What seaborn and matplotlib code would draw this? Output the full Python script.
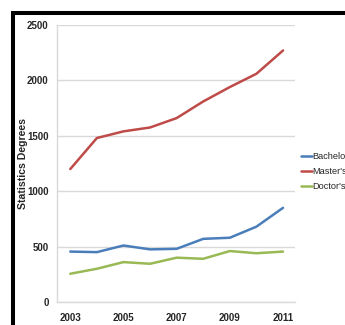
import numpy as np
import pandas as pd
import matplotlib
matplotlib.use("Agg")
import matplotlib.pyplot as plt
from matplotlib import font_manager
import seaborn as sns

years = [2003, 2004, 2005, 2006, 2007, 2008, 2009, 2010, 2011]
bachelors = [455, 450, 510, 475, 480, 570, 580, 680, 850]
masters = [1200, 1480, 1540, 1575, 1660, 1810, 1940, 2060, 2270]
doctors = [255, 300, 360, 345, 400, 390, 460, 440, 455]
series_names = ["Bachelor's", "Master's", "Doctor's"]
colors = ["#4a7ebb", "#be4b48", "#98b954"]
x_ticks = [2003, 2005, 2007, 2009, 2011]
y_ticks = [0, 500, 1000, 1500, 2000, 2500]

df = pd.DataFrame({"Year": years, "Bachelor's": bachelors,
                   "Master's": masters, "Doctor's": doctors})
long = df.melt(id_vars="Year", var_name="Degree", value_name="Count")

sns.set_style("white")
installed = {f.name for f in font_manager.fontManager.ttflist}
if "Liberation Sans Narrow" in installed:
    plt.rcParams["font.family"] = ["Liberation Sans Narrow", "DejaVu Sans"]
    fs, fs_leg, fs_lab = 9, 8.5, 9.6
else:
    plt.rcParams["font.family"] = ["Liberation Sans", "DejaVu Sans"]
    fs, fs_leg, fs_lab = 7, 6.6, 7.6

fig = plt.figure(figsize=(3.45, 3.25), dpi=100, facecolor="white")
ax = fig.add_axes([57 / 345, 1 - 302 / 325, 238 / 345, 277 / 325])

sns.lineplot(data=long, x="Year", y="Count", hue="Degree", hue_order=series_names,
             palette=colors, linewidth=1.8, ax=ax, legend=True)

ax.set_xlim(2002.5, 2011.45)
ax.set_ylim(0, 2500)
ax.set_xticks(x_ticks)
ax.set_yticks(y_ticks)
ax.tick_params(axis="x", length=0, labelsize=fs, pad=8)
ax.tick_params(axis="y", length=0, labelsize=fs, pad=6)
for lbl in ax.get_xticklabels() + ax.get_yticklabels():
    lbl.set_fontweight("bold")
ax.yaxis.grid(True, color="#d9d9d9", linewidth=1.0)
ax.set_axisbelow(True)
for s in ["top", "right"]:
    ax.spines[s].set_visible(False)
for s in ["left", "bottom"]:
    ax.spines[s].set_color("#d9d9d9")
    ax.spines[s].set_linewidth(1.0)
ax.set_xlabel("")
ax.set_ylabel("Statistics Degrees", fontsize=fs_lab, fontweight="bold", labelpad=-1)

ax.legend(title=None, loc="center left", bbox_to_anchor=(1.0, 0.47),
          frameon=False, fontsize=fs_leg, handlelength=1.1, handletextpad=0.1,
          labelspacing=0.65, borderaxespad=0.3)

# black outer frame
fig.patches.append(plt.Rectangle((13 / 345, -0.2), 1.5, 1.2 - 13 / 325,
                                 transform=fig.transFigure, fill=False,
                                 edgecolor="black", linewidth=2.9, clip_on=False))

fig.savefig("out.png", dpi=100, facecolor="white")
